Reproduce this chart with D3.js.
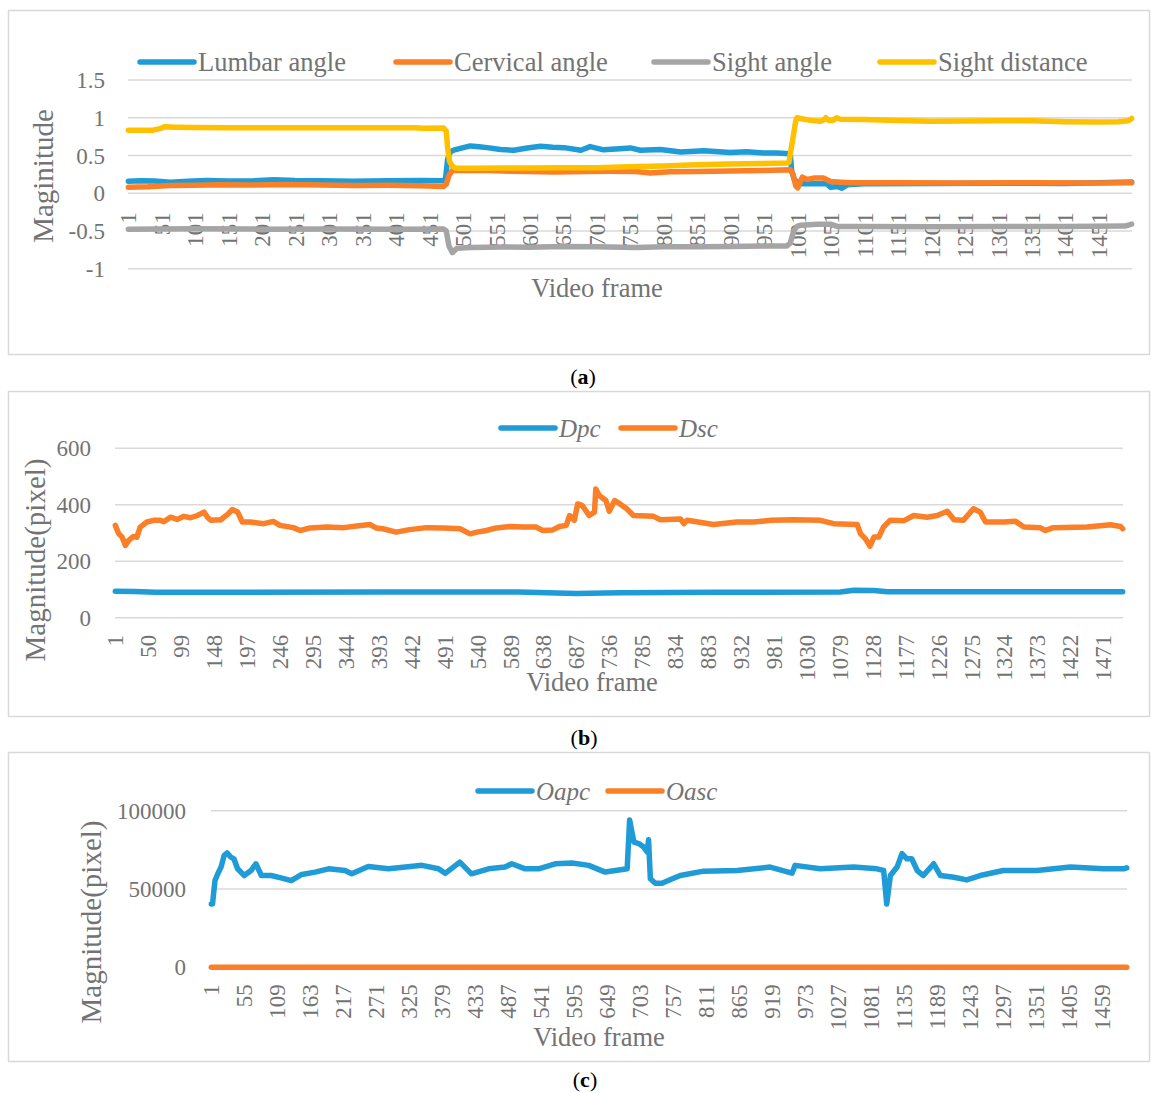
<!DOCTYPE html>
<html>
<head>
<meta charset="utf-8">
<script src="https://cdn.jsdelivr.net/npm/d3@7"></script>
<style>
  body { margin: 0; background: #fff; }
  text { font-family: 'Palatino Linotype', 'Book Antiqua', Palatino, 'Liberation Serif', serif; }
</style>
</head>
<body>
<svg id="chart" width="1151" height="1093"></svg>
<script>
// ---- data: [video frame, value] ----
const frameCount = 1500;

// panel (a)
const lumbarAngle = [[1,0.16],[20,0.165],[40,0.162],[64,0.147],[90,0.158],[118,0.169],[150,0.162],[188,0.164],[218,0.178],[250,0.168],[288,0.164],[337,0.16],[388,0.164],[437,0.167],[472,0.164],[475,0.2],[478,0.45],[482,0.55],[487,0.57],[500,0.6],[512,0.627],[525,0.615],[537,0.604],[557,0.58],[577,0.569],[597,0.6],[617,0.622],[635,0.61],[652,0.604],[677,0.569],[691,0.618],[711,0.575],[735,0.59],[751,0.6],[766,0.569],[796,0.58],[826,0.547],[861,0.564],[900,0.538],[925,0.548],[950,0.533],[970,0.532],[990,0.524],[992,0.3],[996,0.18],[1005,0.124],[1030,0.126],[1045,0.124],[1050,0.08],[1060,0.09],[1067,0.067],[1075,0.111],[1100,0.125],[1200,0.13],[1300,0.132],[1400,0.13],[1500,0.147]];
const cervicalAngle = [[1,0.08],[30,0.085],[64,0.102],[100,0.105],[138,0.111],[180,0.108],[238,0.115],[290,0.108],[337,0.102],[390,0.104],[437,0.098],[472,0.089],[476,0.12],[480,0.235],[485,0.302],[512,0.3],[540,0.3],[562,0.293],[600,0.288],[637,0.28],[686,0.288],[720,0.29],[759,0.287],[781,0.267],[810,0.285],[851,0.289],[900,0.295],[950,0.302],[990,0.311],[994,0.25],[998,0.1],[1001,0.07],[1008,0.213],[1015,0.182],[1025,0.2],[1040,0.2],[1050,0.156],[1060,0.15],[1080,0.14],[1150,0.138],[1250,0.136],[1350,0.138],[1450,0.135],[1500,0.14]];
const sightAngle = [[1,-0.476],[100,-0.472],[200,-0.476],[300,-0.474],[400,-0.476],[472,-0.474],[476,-0.5],[480,-0.7],[485,-0.787],[492,-0.73],[512,-0.72],[560,-0.712],[600,-0.715],[650,-0.705],[700,-0.71],[760,-0.72],[800,-0.708],[851,-0.71],[900,-0.705],[950,-0.7],[985,-0.698],[990,-0.66],[995,-0.5],[1000,-0.44],[1005,-0.425],[1030,-0.41],[1050,-0.41],[1060,-0.44],[1100,-0.44],[1200,-0.443],[1300,-0.44],[1400,-0.44],[1490,-0.435],[1500,-0.41]];
const sightDistance = [[1,0.835],[38,0.835],[50,0.86],[55,0.88],[70,0.875],[100,0.87],[150,0.868],[200,0.866],[250,0.868],[300,0.866],[350,0.866],[400,0.868],[430,0.868],[440,0.86],[472,0.864],[476,0.82],[478,0.6],[481,0.42],[485,0.36],[490,0.33],[520,0.33],[560,0.335],[600,0.335],[650,0.338],[700,0.338],[750,0.35],[800,0.36],[850,0.378],[900,0.387],[950,0.395],[985,0.4],[988,0.41],[993,0.68],[998,0.95],[1000,1.0],[1005,0.99],[1020,0.965],[1035,0.955],[1040,0.97],[1043,1.0],[1047,0.965],[1055,0.97],[1059,1.0],[1065,0.98],[1100,0.978],[1150,0.965],[1200,0.955],[1300,0.96],[1350,0.96],[1400,0.947],[1450,0.942],[1480,0.947],[1495,0.96],[1500,0.99]];
const ticksA = [1,51,101,151,201,251,301,351,401,451,501,551,601,651,701,751,801,851,901,951,1001,1051,1101,1151,1201,1251,1301,1351,1401,1451];
const yTicksA = [-1,-0.5,0,0.5,1,1.5];

// panel (b)
const dpc = [[1,94],[30,93],[60,90],[200,90],[400,91],[600,91],[687,86],[752,88],[900,90],[1080,91],[1100,97],[1130,96],[1150,92],[1300,92],[1500,92]];
const dsc = [[1,327],[6,297],[11,286],[16,256],[21,274],[28,288],[33,285],[38,321],[48,339],[58,345],[68,345],[73,340],[83,356],[93,348],[103,359],[113,354],[123,362],[133,374],[138,356],[143,345],[158,347],[168,366],[175,383],[183,374],[190,339],[202,339],[222,333],[236,341],[246,327],[266,319],[276,309],[291,318],[316,321],[341,319],[360,325],[380,330],[389,318],[399,315],[419,303],[439,312],[464,319],[489,318],[514,315],[529,297],[539,303],[553,309],[568,318],[588,323],[608,321],[627,321],[637,309],[652,311],[662,323],[672,327],[677,362],[684,345],[689,403],[696,397],[706,362],[714,374],[716,456],[721,433],[731,415],[736,377],[744,415],[752,403],[762,386],[772,362],[802,359],[812,347],[842,350],[847,333],[852,345],[891,330],[926,339],[951,339],[976,345],[1010,347],[1050,345],[1070,333],[1105,330],[1110,297],[1117,280],[1124,253],[1130,286],[1137,286],[1144,321],[1154,345],[1174,343],[1189,362],[1209,356],[1224,362],[1239,377],[1249,347],[1263,345],[1278,386],[1288,374],[1296,339],[1323,339],[1340,342],[1353,321],[1377,319],[1385,309],[1397,319],[1447,321],[1482,329],[1497,323],[1500,315]];
const ticksB = [1,50,99,148,197,246,295,344,393,442,491,540,589,638,687,736,785,834,883,932,981,1030,1079,1128,1177,1226,1275,1324,1373,1422,1471];
const yTicksB = [0,200,400,600];

// panel (c)
const oapc = [[1,40400],[3,40400],[7,55400],[12,60100],[17,64000],[22,71500],[27,73000],[33,70400],[38,69300],[44,62900],[55,58600],[66,61800],[74,66100],[83,58600],[99,58600],[115,57100],[132,55400],[149,59300],[171,60800],[193,62900],[220,61800],[231,59700],[258,64400],[291,62900],[319,64000],[346,65100],[373,62900],[384,60000],[408,67200],[427,59700],[455,62900],[482,64000],[493,66100],[515,62900],[537,62900],[564,66100],[592,66600],[619,65100],[646,60800],[674,62400],[682,62900],[686,94000],[693,80000],[701,79000],[709,76800],[715,73600],[717,81500],[720,56500],[728,53700],[739,53700],[756,56500],[769,58600],[807,61400],[862,61800],[916,64000],[952,60100],[957,65100],[998,62900],[1053,64000],[1091,62900],[1102,61800],[1107,40400],[1113,58600],[1124,64000],[1132,72600],[1140,69300],[1148,69300],[1157,61800],[1167,58600],[1184,66100],[1195,58600],[1217,57500],[1238,55800],[1260,58600],[1298,61800],[1353,61800],[1408,64000],[1462,62900],[1495,62900],[1500,63500]];
const oasc = [[1,0],[250,0],[500,0],[750,0],[1000,0],[1250,0],[1500,0]];
const ticksC = [1,55,109,163,217,271,325,379,433,487,541,595,649,703,757,811,865,919,973,1027,1081,1135,1189,1243,1297,1351,1405,1459];
const yTicksC = [0,50000,100000];

const colors = { blue: '#1f9bd7', orange: '#fb7f26', gray: '#a5a5a5', yellow: '#ffc000' };
const textGray = '#737373';

const svg = d3.select('#chart');

function drawPanel(p) {
  const g = svg.append('g');

  // frame around the chart
  g.append('rect')
    .attr('x', 8.5).attr('y', p.box[0] + 0.5)
    .attr('width', 1141).attr('height', p.box[1] - p.box[0])
    .attr('fill', 'none').attr('stroke', '#d9d9d9').attr('stroke-width', 1.5);

  const x = d3.scaleLinear().domain([0.5, frameCount + 0.5]).range([p.left, p.right]);
  const y = d3.scaleLinear().domain(p.yDomain).range([p.bottom, p.top]);

  // gridlines
  g.selectAll('.grid').data(p.yTicks).enter().append('line')
    .attr('x1', p.left).attr('x2', p.right)
    .attr('y1', d => y(d)).attr('y2', d => y(d))
    .attr('stroke', '#d9d9d9').attr('stroke-width', 1.5);

  // y tick labels
  g.selectAll('.ylab').data(p.yTicks).enter().append('text')
    .attr('x', p.yLabelX).attr('y', d => y(d)).attr('dy', '0.35em')
    .attr('text-anchor', 'end').attr('fill', textGray)
    .style('font-size', '23px')
    .text(d => d);

  // x tick labels, rotated, hanging under the zero line
  const zeroY = y(0);
  g.selectAll('.xlab').data(p.xTicks).enter().append('text')
    .attr('transform', d => `translate(${x(d)},${zeroY + p.xLabelGap}) rotate(-90)`)
    .attr('dy', '0.35em')
    .attr('text-anchor', 'end').attr('fill', textGray)
    .style('font-size', '23px')
    .text(d => d);

  // axis titles
  g.append('text')
    .attr('transform', `translate(${p.yTitle[0]},${p.yTitle[1]}) rotate(-90)`)
    .attr('dy', '0.35em').attr('text-anchor', 'middle').attr('fill', textGray)
    .style('font-size', '29px')
    .text(p.yTitleText);
  g.append('text')
    .attr('x', p.xTitle[0]).attr('y', p.xTitle[1])
    .attr('text-anchor', 'middle').attr('fill', textGray)
    .style('font-size', '26.5px')
    .text('Video frame');

  // series
  const line = d3.line().x(d => x(d[0])).y(d => y(d[1]));
  p.series.forEach(s => {
    g.append('path')
      .datum(s.data)
      .attr('d', line)
      .attr('fill', 'none')
      .attr('stroke', s.color)
      .attr('stroke-width', 5.5)
      .attr('stroke-linejoin', 'round')
      .attr('stroke-linecap', 'round');
  });

  // legend
  p.series.forEach(s => {
    g.append('line')
      .attr('x1', s.lx).attr('x2', s.lx + 54)
      .attr('y1', p.legendY).attr('y2', p.legendY)
      .attr('stroke', s.color).attr('stroke-width', 5.5).attr('stroke-linecap', 'round');
    g.append('text')
      .attr('x', s.lx + 58).attr('y', p.legendY).attr('dy', '0.35em')
      .attr('fill', textGray)
      .style('font-size', p.italic ? '25px' : '26.5px')
      .style('font-style', p.italic ? 'italic' : 'normal')
      .text(s.name);
  });

  // caption under the box
  const cap = svg.append('text')
    .attr('x', p.caption[0]).attr('y', p.caption[1])
    .attr('text-anchor', 'middle').attr('fill', '#000')
    .style('font-size', '22px');
  cap.append('tspan').text('(');
  cap.append('tspan').style('font-weight', 'bold').text(p.captionLetter);
  cap.append('tspan').text(')');
}

drawPanel({
  box: [10, 354], left: 128, right: 1132, top: 80, bottom: 268.7,
  yDomain: [-1, 1.5], yTicks: yTicksA, xTicks: ticksA,
  yLabelX: 105, xLabelGap: 19,
  yTitle: [43, 176], yTitleText: 'Maginitude', xTitle: [597, 297],
  legendY: 62, italic: false,
  series: [
    { name: 'Lumbar angle', data: lumbarAngle, color: colors.blue, lx: 140 },
    { name: 'Cervical angle', data: cervicalAngle, color: colors.orange, lx: 396 },
    { name: 'Sight angle', data: sightAngle, color: colors.gray, lx: 654 },
    { name: 'Sight distance', data: sightDistance, color: colors.yellow, lx: 880 }
  ],
  caption: [583, 384], captionLetter: 'a'
});

drawPanel({
  box: [391, 716], left: 115, right: 1123, top: 448.3, bottom: 617.7,
  yDomain: [0, 600], yTicks: yTicksB, xTicks: ticksB,
  yLabelX: 91, xLabelGap: 17,
  yTitle: [35, 560], yTitleText: 'Magnitude(pixel)', xTitle: [592, 691],
  legendY: 428, italic: true,
  series: [
    { name: 'Dpc', data: dpc, color: colors.blue, lx: 501 },
    { name: 'Dsc', data: dsc, color: colors.orange, lx: 621 }
  ],
  caption: [584, 745], captionLetter: 'b'
});

drawPanel({
  box: [752, 1061], left: 211, right: 1127, top: 810.7, bottom: 967.3,
  yDomain: [0, 100000], yTicks: yTicksC, xTicks: ticksC,
  yLabelX: 186, xLabelGap: 17,
  yTitle: [91, 922], yTitleText: 'Magnitude(pixel)', xTitle: [599, 1046],
  legendY: 791, italic: true,
  series: [
    { name: 'Oapc', data: oapc, color: colors.blue, lx: 478 },
    { name: 'Oasc', data: oasc, color: colors.orange, lx: 608 }
  ],
  caption: [585, 1087], captionLetter: 'c'
});
</script>
</body>
</html>
